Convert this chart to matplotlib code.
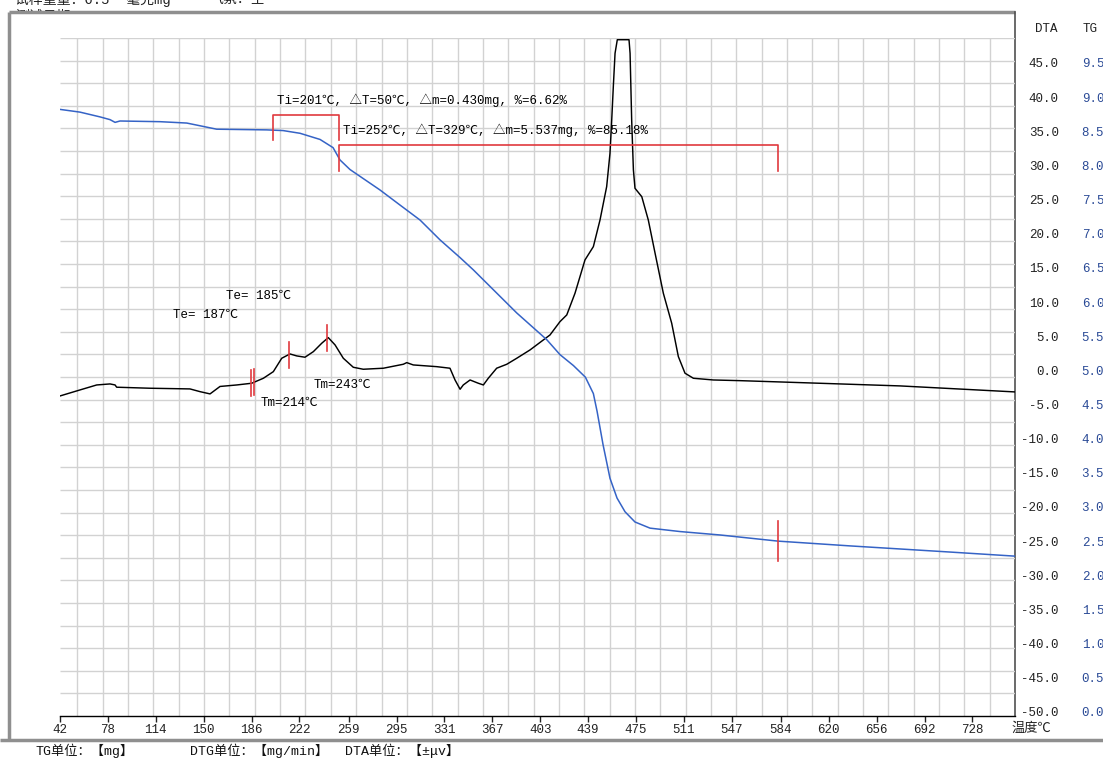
import numpy as np
import matplotlib.pyplot as plt

plt.rcParams['font.family'] = ['Liberation Mono', 'Noto Sans CJK SC']

# DTA curve: temperature (°C) and signal (±μV)
dta_temp = [42.0, 57.0, 69.6, 79.6, 83.4, 84.6, 109.7, 139.7, 147.3, 154.8,
            162.3, 174.9, 186.1, 194.9, 202.4, 208.7, 214.9, 220.0, 226.2, 232.5,
            238.8, 243.7, 248.8, 255.0, 262.5, 270.0, 285.1, 300.1, 302.7, 307.6,
            325.2, 335.2, 339.0, 342.8, 345.2, 350.3, 356.5, 360.3, 364.0, 370.3,
            377.9, 385.4, 395.4, 405.4, 410.4, 417.9, 423.0, 429.2, 436.7, 443.0,
            448.0, 453.0, 455.5, 456.8, 458.0, 459.3, 461.0, 469.8, 470.6, 471.8,
            473.1, 474.3, 479.4, 484.3, 489.4, 495.6, 501.9, 506.9, 511.9, 518.2,
            533.2, 553.3, 583.4, 673.6, 760.0]
dta_val = [-3.75, -2.87, -2.14, -1.99, -2.14, -2.47, -2.62, -2.72, -3.12, -3.45,
           -2.36, -2.14, -1.89, -1.16, -0.19, 1.77, 2.40, 2.11, 1.92, 2.74,
           3.97, 4.79, 3.72, 1.77, 0.45, 0.16, 0.31, 0.89, 1.13, 0.79,
           0.54, 0.31, -1.41, -2.77, -2.14, -1.41, -1.89, -2.14, -1.16, 0.31,
           0.89, 1.77, 2.99, 4.45, 5.18, 7.13, 8.11, 11.29, 16.16, 18.11,
           22.01, 26.89, 31.78, 36.65, 41.53, 46.41, 48.4, 48.4, 46.41, 36.65,
           29.33, 26.65, 25.42, 22.01, 17.14, 11.29, 6.89, 2.01, -0.42, -1.16,
           -1.41, -1.51, -1.70, -2.28, -3.16]

# TG curve: temperature (°C) and mass (mg)
tg_temp = [42.0, 57.0, 72.1, 79.6, 83.4, 87.1, 117.2, 137.3, 159.8, 197.4,
           209.7, 222.5, 237.5, 247.3, 252.5, 260.0, 282.6, 297.6, 312.7, 327.7,
           342.8, 352.8, 385.4, 407.9, 417.9, 428.0, 437.0, 443.0, 445.8, 450.3,
           455.5, 460.8, 466.8, 474.3, 485.6, 508.2, 538.2, 581.8, 636.0, 711.2,
           760.0]
tg_mass = [8.82, 8.78, 8.71, 8.67, 8.63, 8.65, 8.64, 8.62, 8.53, 8.52,
           8.51, 8.47, 8.38, 8.26, 8.08, 7.94, 7.64, 7.42, 7.20, 6.91,
           6.65, 6.47, 5.84, 5.45, 5.23, 5.07, 4.90, 4.66, 4.40, 3.91,
           3.42, 3.13, 2.93, 2.78, 2.69, 2.64, 2.59, 2.50, 2.43, 2.34,
           2.28]

# weight-loss steps
step_start = [202.0, 251.5]
step_end = [251.5, 582.0]
step_top = [8.74, 8.30]
step_bottom = [8.37, 7.92]
step_ti = [201, 252]
step_dt = [50, 329]
step_dm = [0.430, 5.537]
step_pct = [6.62, 85.18]

# DTA peak marks
te_temps = [185.5, 188.0]
te_labels = [185, 187]
tm_temps = [214.0, 243.0]

x_ticks = [42, 78, 114, 150, 186, 222, 259, 295, 331, 367,
           403, 439, 475, 511, 547, 584, 620, 656, 692, 728]
dta_ticks = [45, 40, 35, 30, 25, 20, 15, 10, 5, 0,
             -5, -10, -15, -20, -25, -30, -35, -40, -45, -50]
tg_ticks = [9.5, 9.0, 8.5, 8.0, 7.5, 7.0, 6.5, 6.0, 5.5, 5.0,
            4.5, 4.0, 3.5, 3.0, 2.5, 2.0, 1.5, 1.0, 0.5, 0.0]

W, H = 1103, 765
fig = plt.figure(figsize=(W / 100, H / 100), dpi=100)

# page layer (pixel coordinates) for frame and header
bg = fig.add_axes([0, 0, 1, 1])
bg.set_xlim(0, W)
bg.set_ylim(H, 0)
bg.axis('off')
bg.text(15, -1, '试样重量：6.5  毫克mg', fontsize=10, va='center', color='#222', zorder=1)
bg.text(210, -1, '气氛：空', fontsize=10, va='center', color='#222', zorder=1)
bg.text(15, 17, '测试日期', fontsize=10, va='center', color='#222', zorder=1)
bg.fill_between([9, 1015], 12, 740, color='white', zorder=2)
frame = dict(color='#8f8f8f', lw=2.5, zorder=3, solid_capstyle='butt')
bg.plot([9, 9], [12, 740], **frame)
bg.plot([9, 1015], [12, 12], **frame)
bg.plot([0, W], [740, 740], **frame)
bg.plot([1015, 1015], [12, 716], color='#505050', lw=1.2, zorder=3)
bg.text(1012, 729, '温度℃', fontsize=9.5, va='center', ha='left', color='#222', zorder=3)
bg.text(1046, 29, 'DTA', fontsize=9, va='center', ha='center', color='#222', zorder=3)
bg.text(1083, 29, 'TG', fontsize=9, va='center', ha='left', color='#222', zorder=3)
bg.text(35, 751, 'TG单位：【mg】', fontsize=9.5, va='center', color='#111', zorder=3)
bg.text(190, 751, 'DTG单位：【mg/min】', fontsize=9.5, va='center', color='#111', zorder=3)
bg.text(345, 751, 'DTA单位：【±μv】', fontsize=9.5, va='center', color='#111', zorder=3)

# main chart
left, right, top, bottom = 60, 1015, 38, 716
ax = fig.add_axes([left / W, 1 - bottom / H, (right - left) / W, (bottom - top) / H])
ax.patch.set_visible(False)
ax.set_xlim(42, 760)
ax.set_ylim(-50.6, 48.65)

# grid: 30 rows, 38 columns anchored on the right edge
ax.hlines(np.linspace(0, 1, 31)[1:], 0, 1, transform=ax.transAxes,
          color='#d2d2d2', lw=1, zorder=0)
col = 25.34 / (right - left)
ax.vlines([1 - k * col for k in range(1, 38)], 0, 1, transform=ax.transAxes,
          color='#d2d2d2', lw=1, zorder=0)

ax.plot(dta_temp, dta_val, color='black', lw=1.05, zorder=3)

for spine in ['left', 'top', 'right']:
    ax.spines[spine].set_visible(False)
ax.spines['bottom'].set_color('black')
ax.spines['bottom'].set_linewidth(1.0)

ax.set_xticks(x_ticks)
ax.set_xticklabels([str(v) for v in x_ticks])
ax.tick_params(axis='x', direction='out', length=4, width=1, pad=1.5,
               labelsize=9, colors='#222')

# DTA marks and labels
red = '#e0393e'
for t in te_temps + tm_temps:
    v = np.interp(t, dta_temp, dta_val)
    ax.plot([t, t], [v - 1.9, v + 1.9], color=red, lw=1.2, zorder=4)
ax.text(166.8, 10.9, f'Te= {te_labels[0]}℃', fontsize=9, va='center', zorder=1)
ax.text(127.0, 8.1, f'Te= {te_labels[1]}℃', fontsize=9, va='center', zorder=1)
ax.text(193.1, -4.8, f'Tm={tm_temps[0]:.0f}℃', fontsize=9, va='center', zorder=1)
ax.text(233.0, -2.1, f'Tm={tm_temps[1]:.0f}℃', fontsize=9, va='center', zorder=1)

# TG on twin axis
tw = ax.twinx()
lo, hi = ax.get_ylim()
tw.set_ylim((lo + 50) / 10, (hi + 50) / 10)
tw.plot(tg_temp, tg_mass, color='#3563c6', lw=1.1, zorder=2)
for spine in tw.spines.values():
    spine.set_visible(False)
tw.set_yticks(tg_ticks)
tw.set_yticklabels([f'{v:.1f}' for v in tg_ticks])
tw.tick_params(axis='y', length=0, pad=48, labelsize=9, colors='#2a4a96')

# DTA scale labels on the right, right-aligned (after twinx, which resets ax)
ax.set_yticks(dta_ticks)
ax.set_yticklabels([f'{v:.1f}' for v in dta_ticks])
ax.tick_params(axis='y', which='both', left=False, labelleft=False,
               right=True, labelright=True, length=0, pad=31.5,
               labelsize=9, colors='#222')
for tick in ax.yaxis.get_major_ticks():
    tick.label2.set_horizontalalignment('right')

for i in range(2):
    tw.plot([step_start[i], step_start[i], step_end[i], step_end[i]],
            [step_bottom[i], step_top[i], step_top[i], step_bottom[i]],
            color=red, lw=1.2, zorder=4)
    tw.text(step_start[i] + 3, step_top[i] + 0.21,
            f'Ti={step_ti[i]}℃, △T={step_dt[i]}℃, △m={step_dm[i]:.3f}mg, %={step_pct[i]:.2f}%',
            fontsize=9, va='center', zorder=1)
m = np.interp(step_end[1], tg_temp, tg_mass)
tw.plot([step_end[1], step_end[1]], [m - 0.29, m + 0.29], color=red, lw=1.2, zorder=4)

fig.savefig('out.png', dpi=100)
